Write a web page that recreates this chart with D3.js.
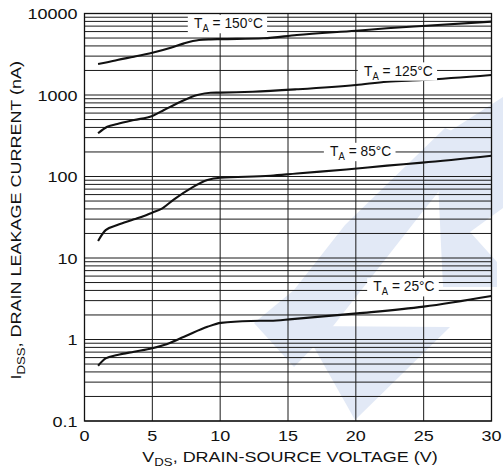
<!DOCTYPE html>
<html>
<head>
<meta charset="utf-8">
<script src="https://cdn.jsdelivr.net/npm/d3@7"></script>
<style>
  body { margin: 0; background: #fff; }
  svg { display: block; }
  text { font-family: "Liberation Sans", Arial, Helvetica, sans-serif; fill: #111; }
</style>
</head>
<body>
<svg id="chart" width="503" height="470"></svg>
<script>
// Drain leakage current vs drain-source voltage, one curve per ambient temperature
const vds150 = [1, 1.68, 2.42, 3.65, 5, 6.36, 7.34, 8.44, 9.3, 10, 13.2, 15.65, 20, 22.3, 24.9, 30];
const idss150 = [2400, 2520, 2690, 2950, 3300, 3800, 4300, 4730, 4820, 4850, 4960, 5450, 6150, 6580, 7030, 7940];

const vds125 = [1, 1.68, 2.42, 3.65, 5, 5.86, 7.09, 8.32, 9.3, 10, 12.4, 15.65, 20, 22.3, 24.9, 30];
const idss125 = [339, 408, 441, 493, 553, 655, 828, 1000, 1067, 1070, 1097, 1175, 1327, 1456, 1527, 1760];

const vds85 = [1, 1.56, 2.42, 3.65, 5, 5.74, 6.6, 7.83, 9.06, 10, 13.7, 15.65, 19.3, 22.3, 24.9, 30];
const idss85 = [16.2, 22, 25.4, 29.8, 36, 40.7, 52.5, 71.6, 90.6, 96.7, 102, 109, 122, 136, 148, 180];

const vds25 = [1, 1.56, 2.42, 3.65, 5, 5.86, 7.34, 9.06, 10.05, 12.26, 13.7, 15.3, 20.1, 25, 30];
const idss25 = [0.477, 0.587, 0.645, 0.708, 0.78, 0.855, 1.08, 1.43, 1.6, 1.69, 1.7, 1.78, 2.09, 2.53, 3.42];

const xTicks = [0, 5, 10, 15, 20, 25, 30];
const yTicks = [0.1, 1, 10, 100, 1000, 10000];
const yTickLabels = ["0.1", "1", "10", "100", "1000", "10000"];

const tempLabels = ["150°C", "125°C", "85°C", "25°C"];
// label anchors (start of text, vertical middle) in data units
const labelVds = [8.07, 20.6, 18.1, 21.29];
const labelIdss = [7640, 2000, 206, 4.51];

(function draw() {
  const series = [
    { x: vds150, y: idss150 },
    { x: vds125, y: idss125 },
    { x: vds85, y: idss85 },
    { x: vds25, y: idss25 }
  ];

  const svg = d3.select("#chart");
  const pl = 84.5, pr = 491.5, pt = 13.5, pb = 421;

  const x = d3.scaleLinear().domain([0, 30]).range([pl, pr]);
  const y = d3.scaleLog().domain([0.1, 10000]).range([pb, pt]);

  // faint background logo
  const mark = svg.append("g").attr("fill", "#e2e9f6");
  const logo = [
    [[254, 323], [294, 290], [345, 225], [445, 128], [478, 142], [420, 215], [330, 330], [294, 367]],
    [[447, 133], [503, 97], [503, 168], [467, 184]],
    [[302, 326], [450, 327], [355, 420]],
    [[437, 160], [503, 150], [503, 208], [470, 232], [497, 262], [497, 287], [443, 287]]
  ];
  mark.selectAll("polygon").data(logo).join("polygon")
    .attr("points", p => p.map(q => q.join(",")).join(" "));

  const grid = svg.append("g");

  // horizontal log grid: decades plus minor lines 2..9
  const minor = [];
  for (let d = 0.1; d < 10000; d *= 10) {
    for (let k = 1; k <= 9; k++) minor.push(+(d * k).toPrecision(3));
  }
  grid.selectAll("line.h").data(minor).join("line")
    .attr("class", "h")
    .attr("x1", pl).attr("x2", pr)
    .attr("y1", d => y(d)).attr("y2", d => y(d))
    .attr("stroke", "#1a1a1a").attr("stroke-width", 1);

  // vertical grid
  grid.selectAll("line.v").data(xTicks.slice(1, -1)).join("line")
    .attr("class", "v")
    .attr("x1", d => x(d)).attr("x2", d => x(d))
    .attr("y1", pt).attr("y2", pb)
    .attr("stroke", "#1a1a1a").attr("stroke-width", 1);

  // frame
  svg.append("rect")
    .attr("x", pl).attr("y", pt)
    .attr("width", pr - pl).attr("height", pb - pt)
    .attr("fill", "none").attr("stroke", "#111").attr("stroke-width", 1.3);

  // curves
  const line = d3.line().curve(d3.curveMonotoneX);
  svg.append("g").selectAll("path").data(series).join("path")
    .attr("d", s => line(s.x.map((v, i) => [x(v), y(s.y[i])])))
    .attr("fill", "none").attr("stroke", "#111").attr("stroke-width", 2.1)
    .attr("stroke-linejoin", "round");

  // temperature labels on white boxes
  const lab = svg.append("g");
  tempLabels.forEach((t, i) => {
    const g = lab.append("g")
      .attr("transform", `translate(${x(labelVds[i])},${y(labelIdss[i]) + 5.2}) scale(0.95,1)`);
    const bg = g.append("rect").attr("fill", "#fff");
    const tx = g.append("text").attr("font-size", 14.5);
    tx.append("tspan").text("T");
    tx.append("tspan").attr("font-size", 10).attr("dy", 4).text("A");
    tx.append("tspan").attr("dy", -4).text(" = " + t);
    const b = tx.node().getBBox();
    bg.attr("x", b.x - 6.5).attr("y", b.y)
      .attr("width", b.width + 11).attr("height", b.height - 1);
  });

  // axis text is set slightly wide
  const wide = "scale(1.2,1)";

  const axes = svg.append("g");
  axes.selectAll("g.yt").data(yTicks).join("g")
    .attr("class", "yt")
    .attr("transform", d => `translate(${pl - 7},${y(d) + 5.5}) ${wide}`)
    .append("text")
    .attr("text-anchor", "end").attr("font-size", 15)
    .text((d, i) => yTickLabels[i]);

  axes.selectAll("g.xt").data(xTicks).join("g")
    .attr("class", "xt")
    .attr("transform", d => `translate(${x(d)},${pb + 20}) ${wide}`)
    .append("text")
    .attr("text-anchor", "middle").attr("font-size", 15)
    .text(d => d);

  // axis titles
  const xt = svg.append("g")
    .attr("transform", `translate(${(pl + pr) / 2 + 2},${pb + 40.5}) ${wide}`)
    .append("text")
    .attr("text-anchor", "middle").attr("font-size", 15);
  xt.append("tspan").text("V");
  xt.append("tspan").attr("font-size", 11).attr("dy", 4).text("DS");
  xt.append("tspan").attr("dy", -4).text(", DRAIN-SOURCE VOLTAGE (V)");

  const yt = svg.append("g")
    .attr("transform", `translate(21,${(pt + pb) / 2 + 3}) rotate(-90) ${wide}`)
    .append("text")
    .attr("text-anchor", "middle").attr("font-size", 15);
  yt.append("tspan").text("I");
  yt.append("tspan").attr("font-size", 11).attr("dy", 4).text("DSS");
  yt.append("tspan").attr("dy", -4).text(", DRAIN LEAKAGE CURRENT (nA)");
})();
</script>
</body>
</html>
